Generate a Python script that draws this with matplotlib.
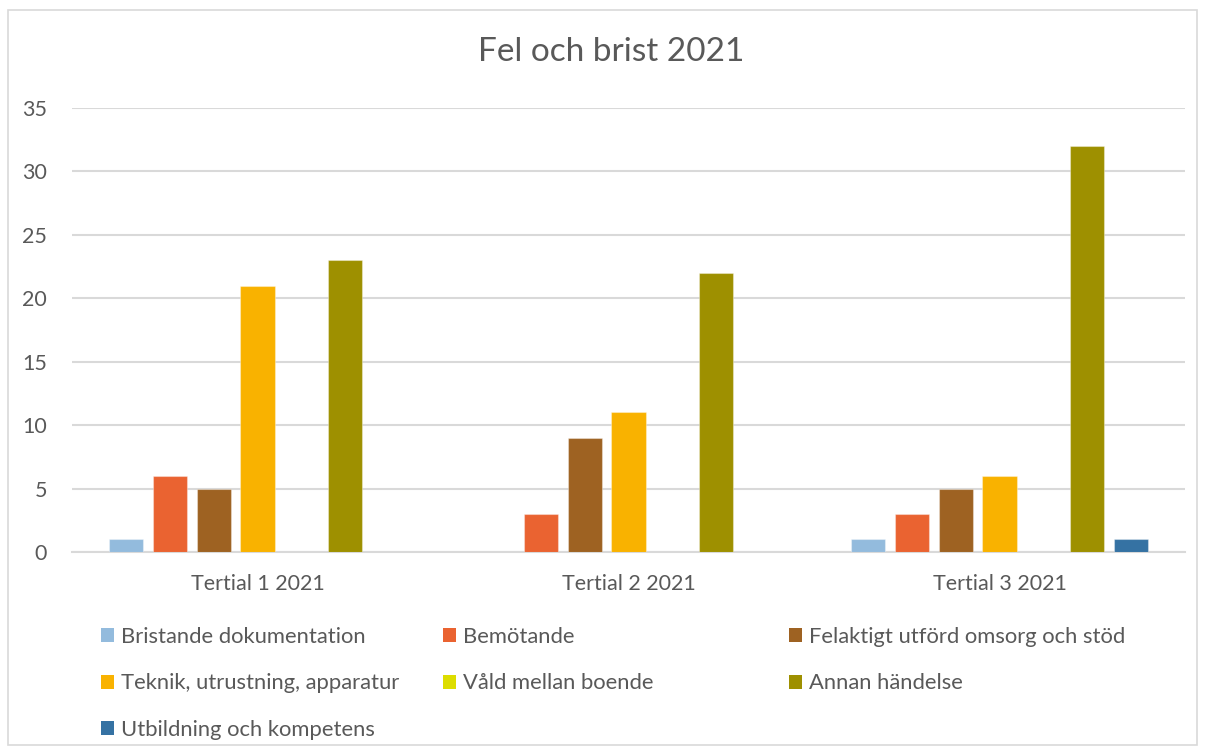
import numpy as np
import matplotlib
matplotlib.use("Agg")
import matplotlib.pyplot as plt
from matplotlib.patches import Rectangle, Patch

plt.rcParams["font.family"] = ["Lato", "DejaVu Sans"]

# ---- data -------------------------------------------------------------
categories = ["Tertial 1 2021", "Tertial 2 2021", "Tertial 3 2021"]
series_names = [
    "Bristande dokumentation",
    "Bemötande",
    "Felaktigt utförd omsorg och stöd",
    "Teknik, utrustning, apparatur",
    "Våld mellan boende",
    "Annan händelse",
    "Utbildning och kompetens",
]
bristande = [1, 0, 1]
bemotande = [6, 3, 3]
felaktigt = [5, 9, 5]
teknik = [21, 11, 6]
vald = [0, 0, 0]
annan = [23, 22, 32]
utbildning = [0, 0, 1]
yticks = [0, 5, 10, 15, 20, 25, 30, 35]

series = [bristande, bemotande, felaktigt, teknik, vald, annan, utbildning]
colors = ["#93BBDD", "#EA6331", "#9E6222", "#F9B200", "#DDDD00", "#9E9000", "#3572A3"]

TEXT = "#595959"
GRID = "#D9D9D9"

fig = plt.figure(figsize=(12.05, 7.55), dpi=100)
fig.patches.append(Rectangle((8 / 1205, 10 / 755), 1189 / 1205, 735 / 755,
                             transform=fig.transFigure, fill=False,
                             edgecolor=GRID, linewidth=1.2))

ax = fig.add_axes([72 / 1205, 1 - 552 / 755, 1113 / 1205, 444 / 755])

x = np.arange(len(categories))
slot = 0.1178
width = 0.0917
n = len(series)
for i, (vals, col, name) in enumerate(zip(series, colors, series_names)):
    offs = (i - (n - 1) / 2) * slot
    ax.bar(x + offs, vals, width=width, color=col, label=name,
           edgecolor=(1, 1, 1, 0.35), linewidth=0.8, zorder=3)

ax.set_xlim(-0.5, len(categories) - 0.5)
ax.set_ylim(0, 35)
ax.set_yticks(yticks)
ax.set_xticks(x)
ax.set_xticklabels(categories)
ax.yaxis.grid(True, color=GRID, linewidth=1.5, zorder=0)
ax.set_axisbelow(True)
for s in ["top", "right", "left"]:
    ax.spines[s].set_visible(False)
ax.spines["bottom"].set_color(GRID)
ax.spines["bottom"].set_linewidth(1.5)
ax.tick_params(axis="both", length=0, colors=TEXT, labelsize=15.5)
ax.tick_params(axis="y", pad=18)
ax.tick_params(axis="x", pad=16)

fig.text(611 / 1205, 1 - 52 / 755, "Fel och brist 2021", ha="center", va="center",
         fontsize=24, color=TEXT)

# legend: three columns, row-major order as in the original
handles = [Patch(facecolor=c, edgecolor="none") for c in colors]
columns = [[0, 3, 6], [1, 4], [2, 5]]
col_x = [101, 443, 789]
for cx, idx in zip(col_x, columns):
    leg = fig.legend([handles[k] for k in idx], [series_names[k] for k in idx],
                     loc="upper left", bbox_to_anchor=(cx / 1205, 1 - 627 / 755),
                     frameon=False, fontsize=15.8, handlelength=0.6,
                     handleheight=0.6, handletextpad=0.3, labelspacing=1.2,
                     borderaxespad=0, borderpad=0)
    for t in leg.get_texts():
        t.set_color(TEXT)

fig.savefig("out.png", dpi=100)
